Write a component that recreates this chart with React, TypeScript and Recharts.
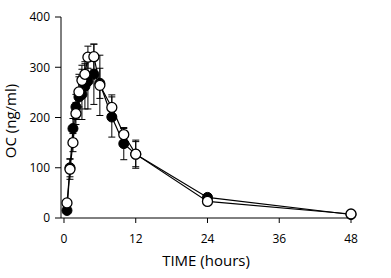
import React from 'react';
import { LineChart, Line, XAxis, YAxis, ErrorBar } from 'recharts';

const times = [0.5, 1, 1.5, 2, 2.5, 3, 3.5, 4, 5, 6, 8, 10, 12, 24, 48];
const filledValues = [15, 100, 178, 221, 241, 246, 262, 272, 286, 268, 201, 148, 127, 41, 7];
const filledErrors = [3, 18, 20, 25, 45, 50, 45, 55, 60, 30, 40, 32, 28, 4, 2];
const openValues = [30, 97, 150, 208, 251, 274, 286, 320, 321, 264, 220, 166, 127, 33, 8];
const openErrors = [4, 20, 18, 22, 30, 30, 25, 22, 25, 60, 25, 12, 25, 4, 2];
const xTicks = [0, 12, 24, 36, 48];
const yTicks = [0, 100, 200, 300, 400];

const data = times.map((t, i) => ({
  t,
  filled: filledValues[i],
  filledErr: filledErrors[i],
  open: openValues[i],
  openErr: openErrors[i],
}));

const FONT = '"Open Sans", "DejaVu Sans", sans-serif';

const App: React.FC = () => {
  return (
    <div style={{ position: 'absolute', left: 0, top: 0, width: 391, height: 278, background: '#fff' }}>
      <LineChart
        width={391}
        height={278}
        data={data}
        margin={{ top: 17, right: 40, left: 0, bottom: 30 }}
        style={{ fontFamily: FONT }}
      >
        <XAxis
          dataKey="t"
          type="number"
          domain={[-0.5, 48]}
          ticks={xTicks}
          height={30}
          tickSize={5}
          tickMargin={11}
          stroke="#000"
          tick={{ fill: '#000', fontSize: 12 }}
          label={{ value: 'TIME (hours)', position: 'bottom', offset: 7, fill: '#000', fontSize: 15 }}
        />
        <YAxis
          type="number"
          domain={[0, 400]}
          ticks={yTicks}
          width={61}
          tickSize={6}
          tickMargin={5}
          stroke="#000"
          tick={{ fill: '#000', fontSize: 12 }}
          label={{
            content: () => (
              <text
                x={10}
                y={121}
                transform="rotate(-90 10 121)"
                textAnchor="middle"
                dominantBaseline="central"
                fill="#000"
                fontSize={15}
              >
                OC (ng/ml)
              </text>
            ),
          }}
        />
        <Line
          dataKey="filled"
          stroke="#000"
          strokeWidth={1.2}
          dot={{ r: 5, fill: '#000', stroke: '#000', strokeWidth: 1 }}
          isAnimationActive={false}
        >
          <ErrorBar dataKey="filledErr" direction="y" width={3.5} stroke="#000" strokeWidth={1} />
        </Line>
        <Line
          dataKey="open"
          stroke="#000"
          strokeWidth={1.2}
          dot={{ r: 5, fill: '#fff', stroke: '#000', strokeWidth: 1.3 }}
          isAnimationActive={false}
        >
          <ErrorBar dataKey="openErr" direction="y" width={3.5} stroke="#000" strokeWidth={1} />
        </Line>
      </LineChart>
    </div>
  );
};

export default App;
